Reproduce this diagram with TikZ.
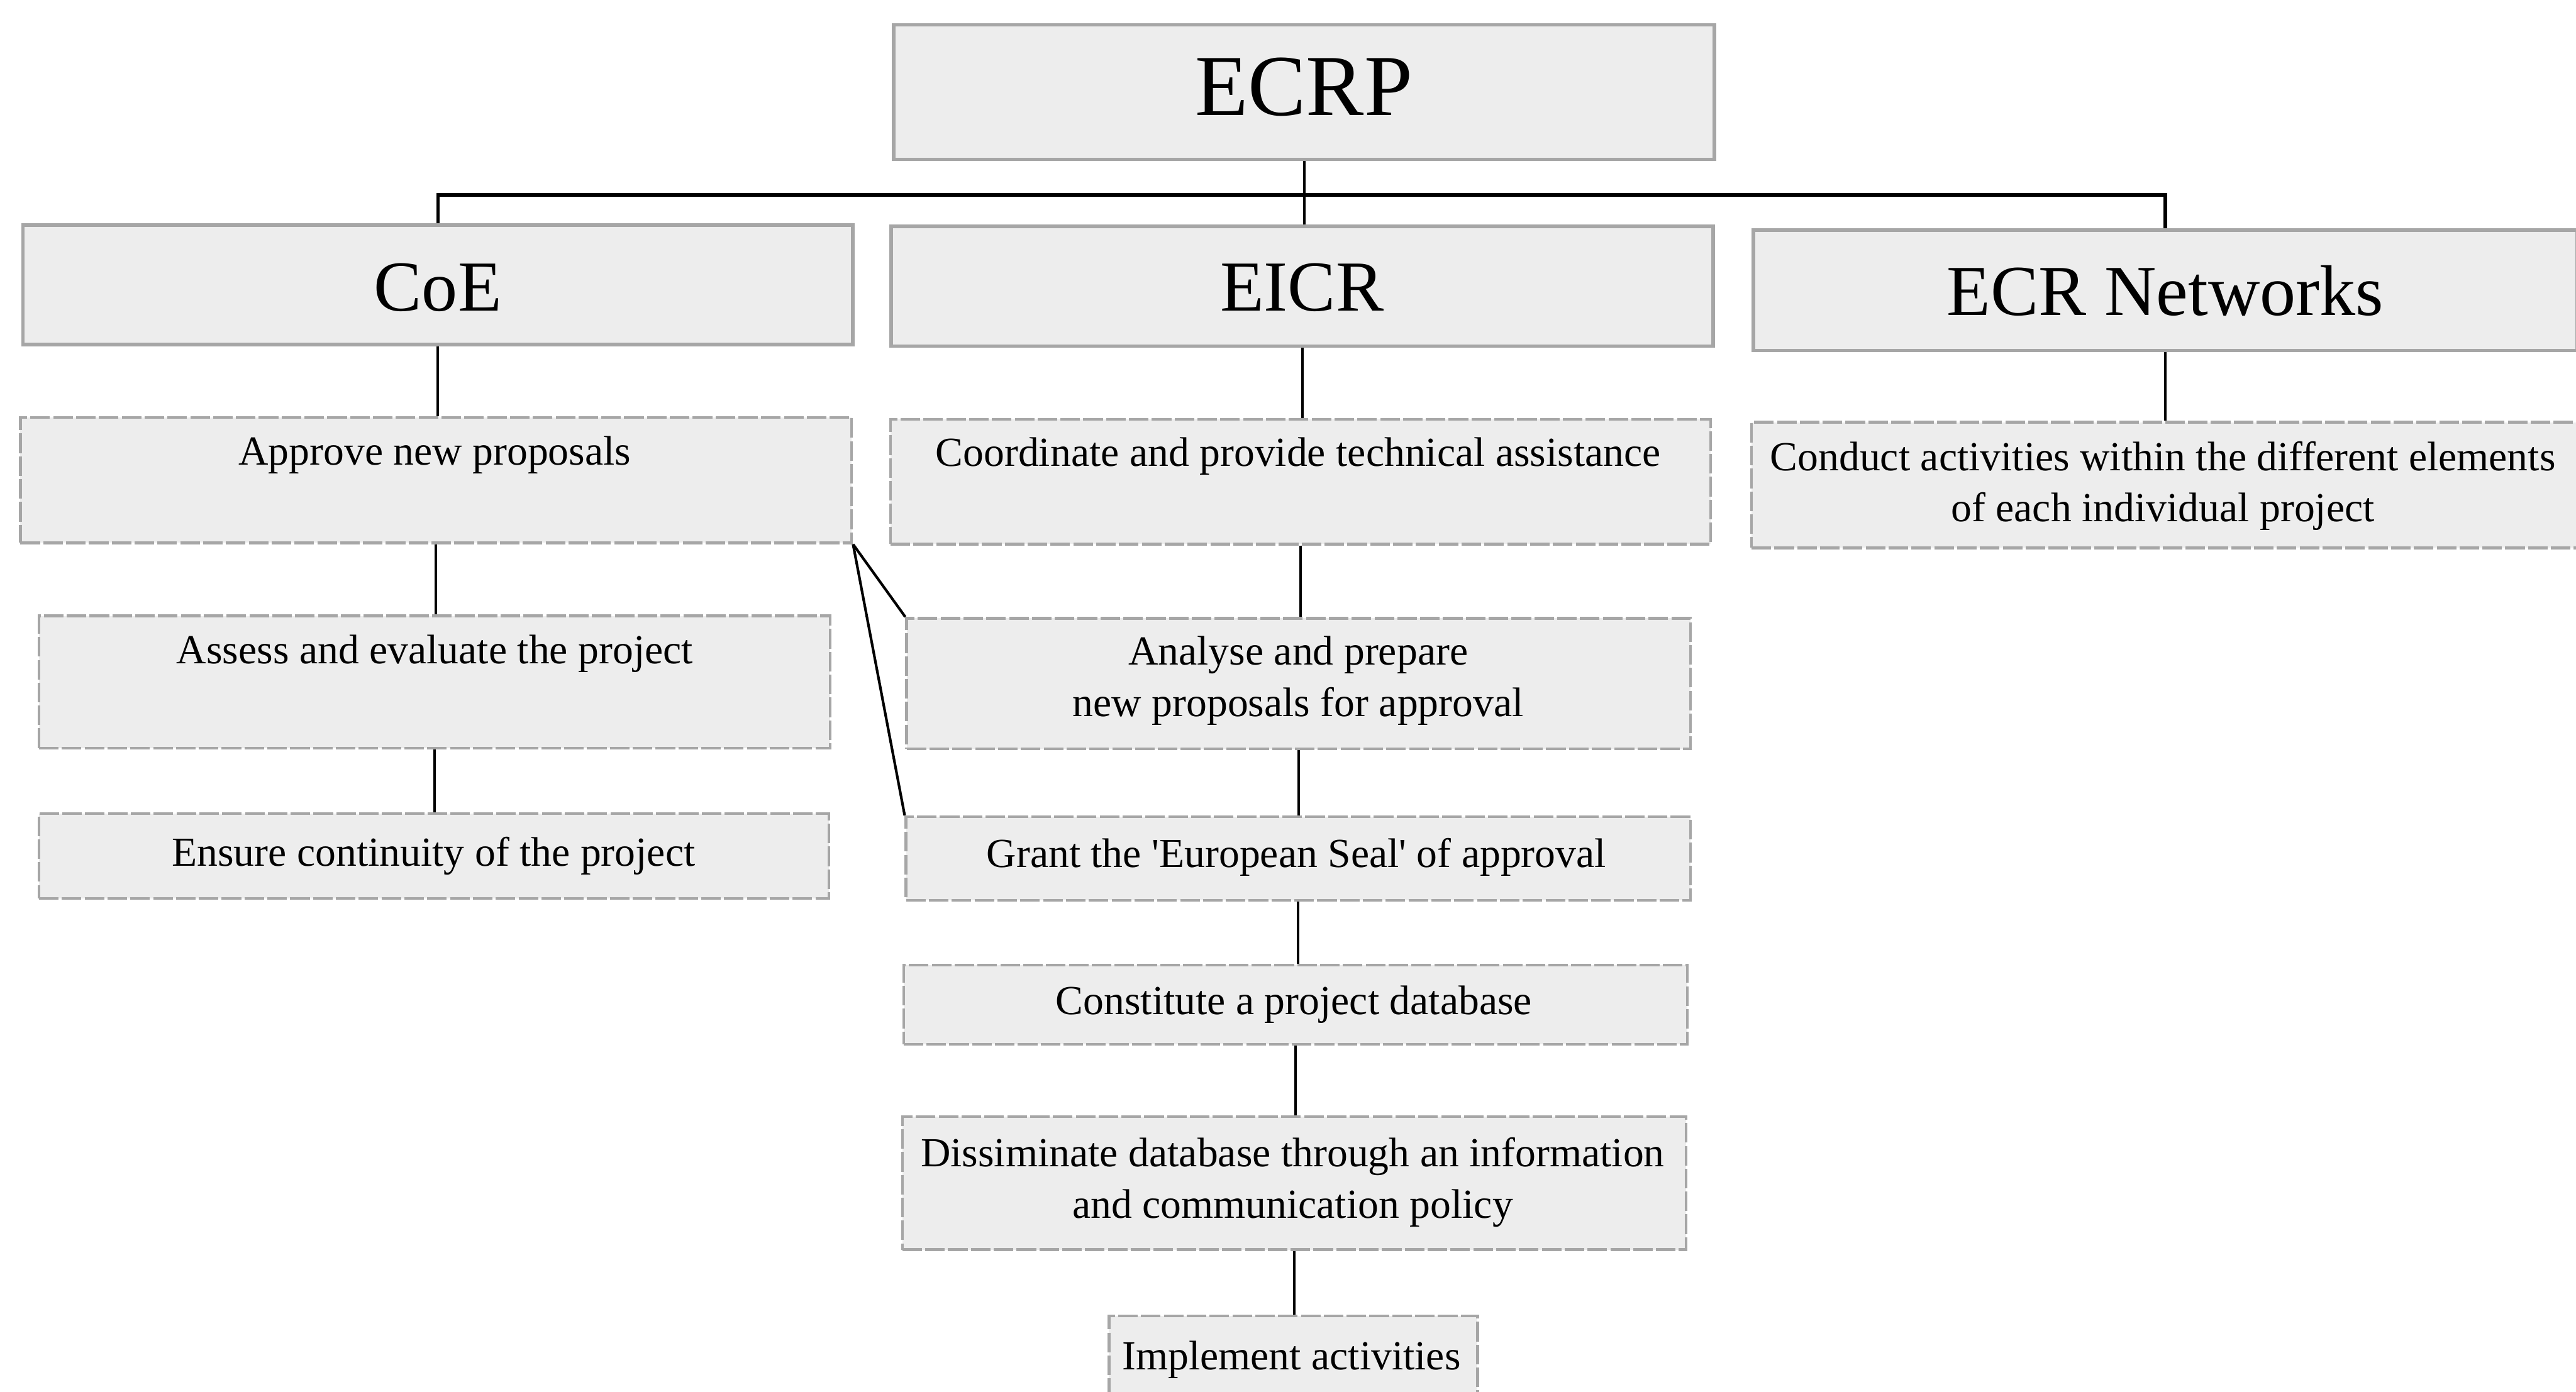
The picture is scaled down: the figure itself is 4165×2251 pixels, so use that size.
\documentclass[tikz,border=0pt]{standalone}
\usepackage{fontspec}
\setmainfont{Liberation Serif}
\usetikzlibrary{fit}
\definecolor{boxfill}{HTML}{EDEDED}
\definecolor{boxline}{HTML}{A6A6A6}
\tikzset{
  topbox/.style={draw=boxline, fill=boxfill, line width=1.6pt, inner sep=0pt, rectangle},
  subbox/.style={draw=boxline, fill=boxfill, line width=1.3pt, dash pattern=on 9pt off 1.5pt, inner sep=0pt, rectangle},
  bigtxt/.style={inner sep=0pt, font=\fontsize{40}{48}\selectfont},
  midtxt/.style={inner sep=0pt, font=\fontsize{33}{40}\selectfont},
  smalltxt/.style={inner sep=0pt, align=center, font=\fontsize{19}{23.5}\selectfont},
  link/.style={draw=black, line width=1.2pt},
  buslink/.style={draw=black, line width=1.6pt}
}
\begin{document}
\begin{tikzpicture}[x=0.01cm, y=-0.01cm]
\useasboundingbox (0,0) rectangle (4165,2251);
\fill[white] (0,0) rectangle (4165,2251);

% top level boxes
\node[topbox, fit={(1445,40) (2772,258)}] (ecrp) {};
\node[topbox, fit={(37,364) (1379,557)}] (coe) {};
\node[topbox, fit={(1441,366) (2770,560)}] (eicr) {};
\node[topbox, fit={(2835,372) (4167,567)}] (ecrn) {};

% second level
\node[subbox, fit={(33,675) (1377,878)}] (approve) {};
\node[subbox, fit={(1440,678) (2766,880)}] (coord) {};
\node[subbox, fit={(2832,683) (4170,886)}] (conduct) {};

% CoE chain
\node[subbox, fit={(63,996) (1342,1210)}] (assess) {};
\node[subbox, fit={(63,1316) (1340,1453)}] (ensure) {};

% EICR chain
\node[subbox, fit={(1466,1000) (2733,1211)}] (analyse) {};
\node[subbox, fit={(1465,1321) (2733,1456)}] (grant) {};
\node[subbox, fit={(1461,1561) (2728,1689)}] (constitute) {};
\node[subbox, fit={(1459,1806) (2726,2021)}] (dissem) {};
\node[subbox, fit={(1793,2128) (2389,2275)}] (implement) {};

% texts
\node[bigtxt] (ecrp-t) at (2108,141) {ECRP};
\node[midtxt] (coe-t) at (708,465) {CoE};
\node[midtxt] (eicr-t) at (2105,465) {EICR};
\node[midtxt] (ecrn-t) at (3501,470) {ECR Networks};

\node[smalltxt] (approve-t) at (703,736) {Approve new proposals};
\node[smalltxt] (coord-t) at (2099,738) {Coordinate and provide technical assistance};
\node[smalltxt] (conduct-t) at (3497,786) {Conduct activities within the different elements\\of each individual project};
\node[smalltxt] (assess-t) at (703,1057) {Assess and evaluate the project};
\node[smalltxt] (analyse-t) at (2099,1101) {Analyse and prepare\\new proposals for approval};
\node[smalltxt] (ensure-t) at (701,1384) {Ensure continuity of the project};
\node[smalltxt] (grant-t) at (2096,1386) {Grant the \textquotesingle European Seal\textquotesingle{} of approval};
\node[smalltxt] (constitute-t) at (2092,1625) {Constitute a project database};
\node[smalltxt] (dissem-t) at (2090,1912) {Dissiminate database through an information\\and communication policy};
\node[smalltxt] (implement-t) at (2088,2199) {Implement activities};

% connectors
\coordinate (busy) at (0,315);
\draw[buslink] (coe.north) -- (coe.north |- busy) -- (ecrn.north |- busy) -- (ecrn.north);
\draw[link] (ecrp.south) -- (ecrp.south |- eicr.north);

\draw[link] (coe.south) -- (coe.south |- approve.north);
\draw[link] (approve.south) -- (approve.south |- assess.north);
\draw[link] (assess.south) -- (assess.south |- ensure.north);

\draw[link] (eicr.south) -- (eicr.south |- coord.north);
\draw[link] (coord.south) -- (coord.south |- analyse.north);
\draw[link] (analyse.south) -- (analyse.south |- grant.north);
\draw[link] (grant.south) -- (grant.south |- constitute.north);
\draw[link] (constitute.south) -- (constitute.south |- dissem.north);
\draw[link] (dissem.south) -- (dissem.south |- implement.north);

\draw[link] (ecrn.south) -- (ecrn.south |- conduct.north);

\draw[link] (approve.south east) -- (analyse.north west);
\draw[link] (approve.south east) -- (grant.north west);
\end{tikzpicture}
\end{document}
